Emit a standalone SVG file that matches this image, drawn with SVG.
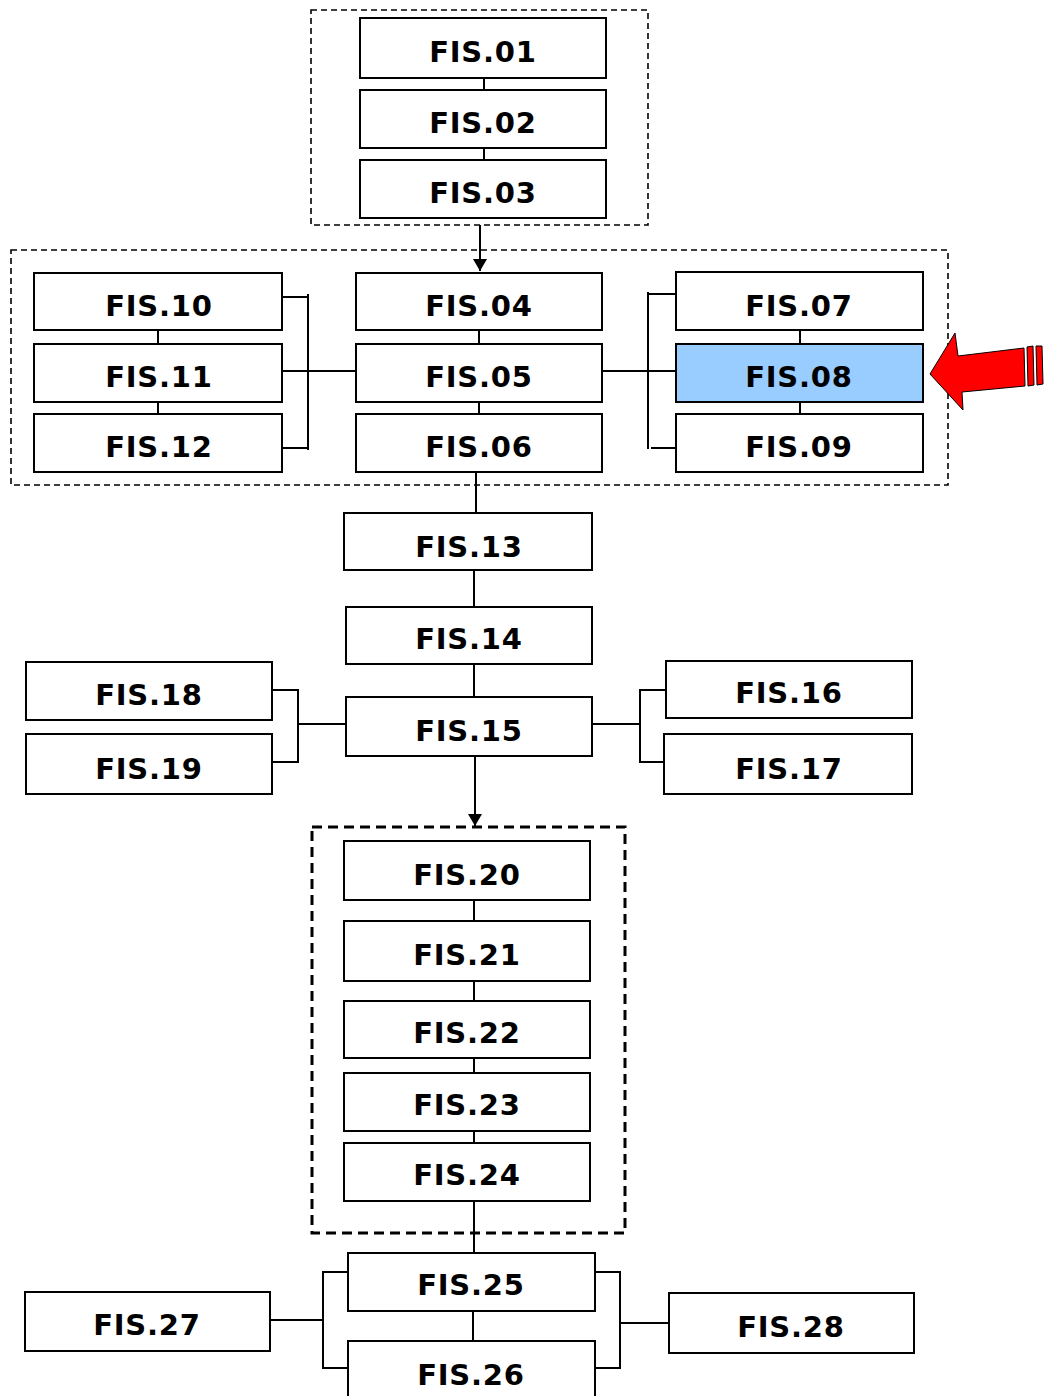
<svg xmlns="http://www.w3.org/2000/svg" width="1045" height="1396" viewBox="0 0 1045 1396">
<style>
.n rect{fill:#fff;stroke:#000;stroke-width:2}
.n.hl rect{fill:#99CCFF}
.n text{font-family:"DejaVu Sans",Verdana,sans-serif;font-weight:bold;font-size:29px;letter-spacing:0.8px;text-anchor:middle;fill:#000}
.c line,.c path{stroke:#000;stroke-width:2;fill:none}
.grp{fill:none;stroke:#000;stroke-width:1.6;stroke-dasharray:6 4}
.grp2{fill:none;stroke:#000;stroke-width:3;stroke-dasharray:10 6}
</style>
<defs>
<marker id="ah" viewBox="0 0 12 14" refX="12" refY="7" markerWidth="12" markerHeight="14" markerUnits="userSpaceOnUse" orient="auto">
<path d="M0,0 L12,7 L0,14 Z" fill="#000"/>
</marker>
</defs>
<g id="groups">
<rect class="grp" x="311" y="10" width="337" height="215"/>
<rect class="grp" x="11" y="250" width="937" height="235"/>
<rect class="grp2" x="312" y="827" width="313" height="406"/>
</g>
<g class="c" id="connectors">
<line x1="484" y1="78" x2="484" y2="90"/>
<line x1="484" y1="148" x2="484" y2="160"/>
<line x1="480" y1="225" x2="480" y2="271" marker-end="url(#ah)"/>
<line x1="158" y1="330" x2="158" y2="344"/>
<line x1="158" y1="402" x2="158" y2="414"/>
<line x1="479" y1="330" x2="479" y2="344"/>
<line x1="479" y1="402" x2="479" y2="414"/>
<line x1="800" y1="330" x2="800" y2="344"/>
<line x1="800" y1="402" x2="800" y2="414"/>
<path d="M282,297 H308 M282,448 H308 M308,294 V450 M282,371 H356"/>
<path d="M648,292 V449 M648,294 H676 M651,448 H676 M602,371 H676"/>
<line x1="476" y1="472" x2="476" y2="513"/>
<line x1="474" y1="570" x2="474" y2="607"/>
<line x1="474" y1="664" x2="474" y2="697"/>
<path d="M272,690 H298 V762 H272 M298,724 H346"/>
<path d="M666,690 H640 V762 H664 M592,724 H640"/>
<line x1="475" y1="756" x2="475" y2="826" marker-end="url(#ah)"/>
<line x1="474" y1="900" x2="474" y2="921"/>
<line x1="474" y1="981" x2="474" y2="1001"/>
<line x1="474" y1="1058" x2="474" y2="1073"/>
<line x1="474" y1="1131" x2="474" y2="1143"/>
<line x1="474" y1="1201" x2="474" y2="1253"/>
<line x1="473" y1="1311" x2="473" y2="1341"/>
<path d="M348,1272 H323 V1368 H348 M270,1320 H323"/>
<path d="M595,1272 H620 V1368 H595 M620,1323 H669"/>
</g>
<g id="fis01" class="n"><rect x="360" y="18" width="246" height="60"/><text x="483" y="62">FIS.01</text></g>
<g id="fis02" class="n"><rect x="360" y="90" width="246" height="58"/><text x="483" y="133">FIS.02</text></g>
<g id="fis03" class="n"><rect x="360" y="160" width="246" height="58"/><text x="483" y="203">FIS.03</text></g>
<g id="fis10" class="n"><rect x="34" y="273" width="248" height="57"/><text x="159" y="316">FIS.10</text></g>
<g id="fis11" class="n"><rect x="34" y="344" width="248" height="58"/><text x="159" y="387">FIS.11</text></g>
<g id="fis12" class="n"><rect x="34" y="414" width="248" height="58"/><text x="159" y="457">FIS.12</text></g>
<g id="fis04" class="n"><rect x="356" y="273" width="246" height="57"/><text x="479" y="316">FIS.04</text></g>
<g id="fis05" class="n"><rect x="356" y="344" width="246" height="58"/><text x="479" y="387">FIS.05</text></g>
<g id="fis06" class="n"><rect x="356" y="414" width="246" height="58"/><text x="479" y="457">FIS.06</text></g>
<g id="fis07" class="n"><rect x="676" y="272" width="247" height="58"/><text x="799" y="316">FIS.07</text></g>
<g id="fis08" class="n hl"><rect x="676" y="344" width="247" height="58"/><text x="799" y="387">FIS.08</text></g>
<g id="fis09" class="n"><rect x="676" y="414" width="247" height="58"/><text x="799" y="457">FIS.09</text></g>
<g id="fis13" class="n"><rect x="344" y="513" width="248" height="57"/><text x="469" y="557">FIS.13</text></g>
<g id="fis14" class="n"><rect x="346" y="607" width="246" height="57"/><text x="469" y="649">FIS.14</text></g>
<g id="fis15" class="n"><rect x="346" y="697" width="246" height="59"/><text x="469" y="741">FIS.15</text></g>
<g id="fis18" class="n"><rect x="26" y="662" width="246" height="58"/><text x="149" y="705">FIS.18</text></g>
<g id="fis19" class="n"><rect x="26" y="734" width="246" height="60"/><text x="149" y="779">FIS.19</text></g>
<g id="fis16" class="n"><rect x="666" y="661" width="246" height="57"/><text x="789" y="703">FIS.16</text></g>
<g id="fis17" class="n"><rect x="664" y="734" width="248" height="60"/><text x="789" y="779">FIS.17</text></g>
<g id="fis20" class="n"><rect x="344" y="841" width="246" height="59"/><text x="467" y="885">FIS.20</text></g>
<g id="fis21" class="n"><rect x="344" y="921" width="246" height="60"/><text x="467" y="965">FIS.21</text></g>
<g id="fis22" class="n"><rect x="344" y="1001" width="246" height="57"/><text x="467" y="1043">FIS.22</text></g>
<g id="fis23" class="n"><rect x="344" y="1073" width="246" height="58"/><text x="467" y="1115">FIS.23</text></g>
<g id="fis24" class="n"><rect x="344" y="1143" width="246" height="58"/><text x="467" y="1185">FIS.24</text></g>
<g id="fis25" class="n"><rect x="348" y="1253" width="247" height="58"/><text x="471" y="1295">FIS.25</text></g>
<g id="fis26" class="n"><rect x="348" y="1341" width="247" height="70"/><text x="471" y="1385">FIS.26</text></g>
<g id="fis27" class="n"><rect x="25" y="1292" width="245" height="59"/><text x="147" y="1335">FIS.27</text></g>
<g id="fis28" class="n"><rect x="669" y="1293" width="245" height="60"/><text x="791" y="1337">FIS.28</text></g>
<g id="pointer">
<path d="M930,374 L955,333 L958,356 L1024,348 L1025,386 L962,392 L963,410 Z" fill="#f00" stroke="#000" stroke-width="1"/>
<path d="M1027,347 L1033,346 L1034,385 L1028,386 Z" fill="#f00" stroke="#000" stroke-width="1"/>
<path d="M1036,346 L1042,346 L1043,384 L1037,385 Z" fill="#f00" stroke="#000" stroke-width="1"/>
</g>
</svg>
